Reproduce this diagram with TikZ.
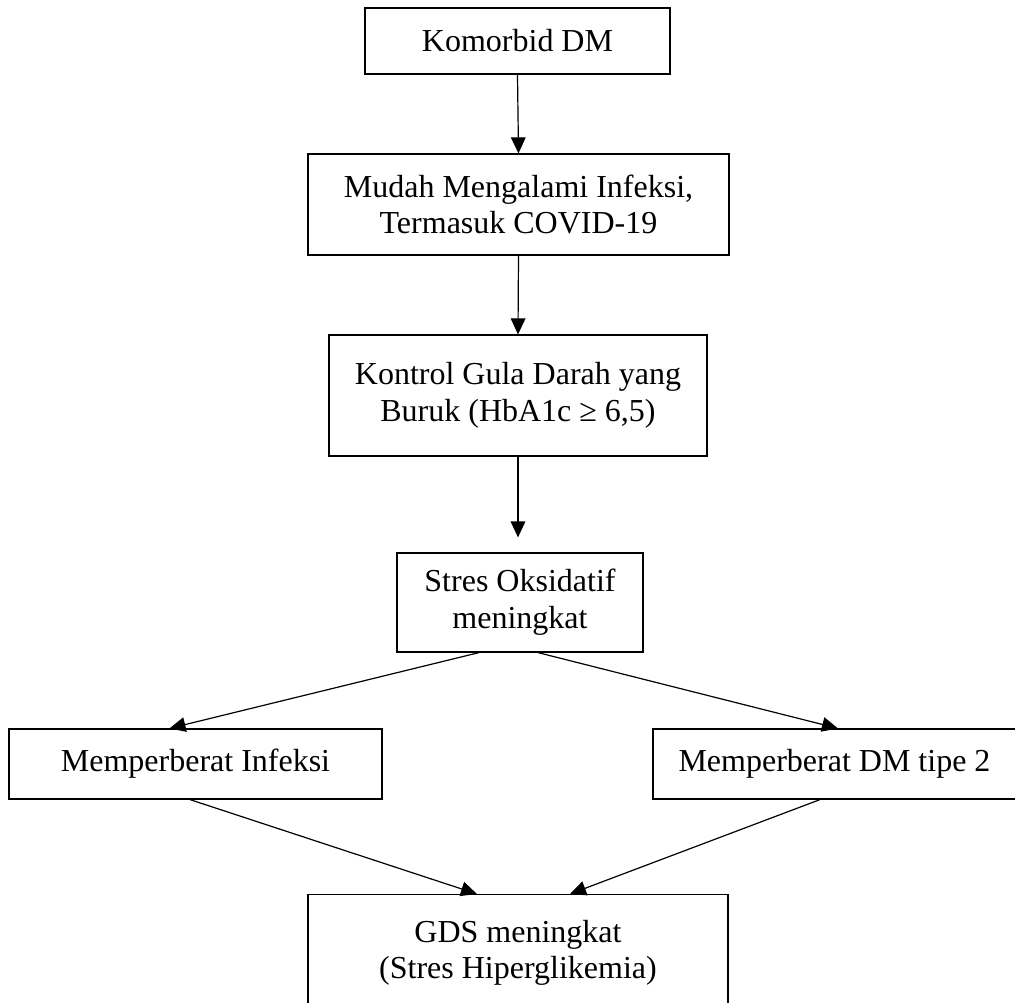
\documentclass[tikz,border=0pt]{standalone}
\usepackage{fontspec}
\setmainfont{Liberation Serif}
\usetikzlibrary{arrows.meta,calc}

\begin{document}
\begin{tikzpicture}[x=0.75pt,y=-0.75pt,
  kotak/.style={draw, line width=0.9pt, inner sep=0pt, align=center,
    font={\fontsize{24}{27.6}\selectfont}},
  panah/.style={line width=0.9pt, -{Triangle[length=12pt,width=11pt]}}]
\useasboundingbox (0,0) rectangle (1015,1003);
\clip (0,0) rectangle (1015,1003);
\node[kotak, minimum width=228.75pt, minimum height=49.5pt] (komorbid) at (517.5,41) {Komorbid DM};
\node[kotak, minimum width=315.75pt, minimum height=75.75pt] (infeksi) at (518.5,204.5) {Mudah Mengalami Infeksi,\\Termasuk COVID-19};
\node[kotak, minimum width=283.5pt, minimum height=90.75pt] (kontrol) at (518,395.5) {Kontrol Gula Darah yang\\Buruk (HbA1c ≥ 6,5)};
\node[kotak, minimum width=184.5pt, minimum height=74.25pt] (oksidatif) at (520,602.5) {Stres Oksidatif\\meningkat};
\node[kotak, minimum width=279.75pt, minimum height=52.5pt] (beratinf) at (195.5,764) {Memperberat Infeksi};
\node[kotak, minimum width=272.25pt, minimum height=52.5pt] (beratdm) at (834.5,764) {Memperberat DM tipe 2};
\node[kotak, anchor=north, minimum width=315pt, inner ysep=19pt, text depth=60pt] (gds) at (518,894) {GDS meningkat\\(Stres Hiperglikemia)};
\draw[panah] (komorbid.south) -- (infeksi.north);
\draw[panah] (infeksi.south) -- (kontrol.north);
\draw[panah, shorten >=11.25pt] (kontrol.south) -- (kontrol.south |- oksidatif.north);
\draw[panah] ($(oksidatif.south)+(-41,0)$) -- ($(beratinf.north)+(-26,0)$);
\draw[panah] ($(oksidatif.south)+(18,0)$) -- ($(beratdm.north)+(3.5,0)$);
\draw[panah] ($(beratinf.south)+(-5.5,0)$) -- ($(gds.north)+(-41,0)$);
\draw[panah] ($(beratdm.south)+(-14.5,0)$) -- ($(gds.north)+(52,0)$);
\end{tikzpicture}
\end{document}
